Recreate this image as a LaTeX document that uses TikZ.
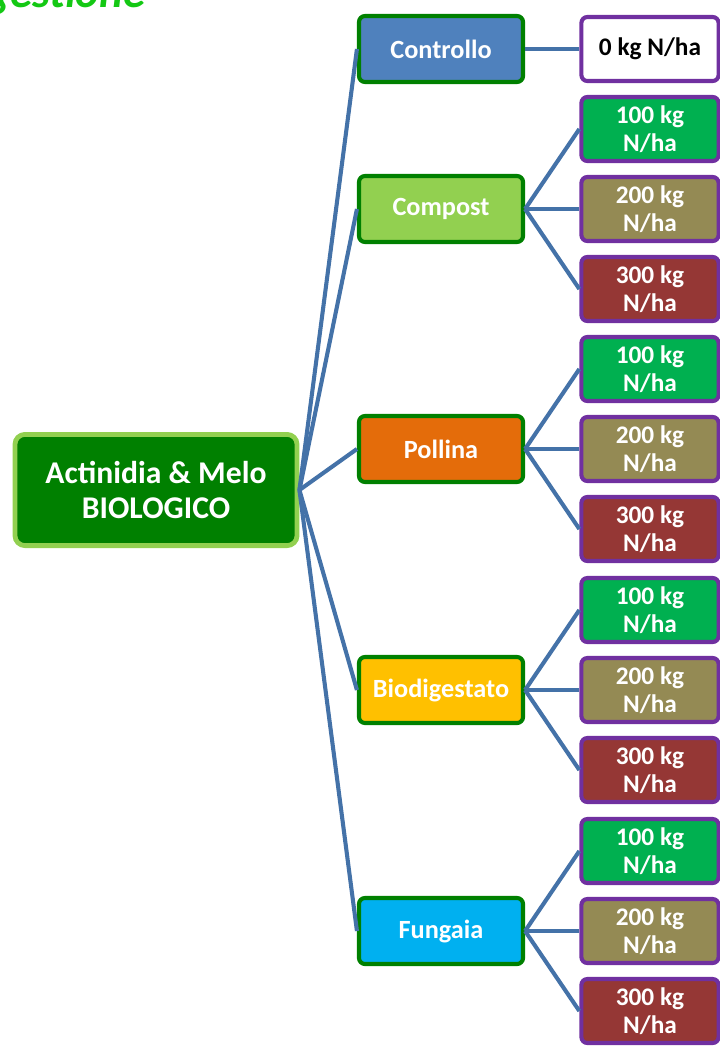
\documentclass[tikz,border=0pt]{standalone}
\usepackage{fontspec}
\setmainfont{Carlito}
\definecolor{biodark}{RGB}{0,128,0}
\definecolor{biolime}{RGB}{146,208,80}
\definecolor{bioblue}{RGB}{79,129,189}
\definecolor{bioorange}{RGB}{228,108,10}
\definecolor{bioyellow}{RGB}{255,192,0}
\definecolor{biocyan}{RGB}{0,176,240}
\definecolor{biopurple}{RGB}{112,48,160}
\definecolor{dose100}{RGB}{0,176,80}
\definecolor{dose200}{RGB}{148,138,84}
\definecolor{dose300}{RGB}{149,55,53}
\definecolor{linkblue}{RGB}{68,114,168}
\definecolor{titlegreen}{RGB}{20,200,20}
\usetikzlibrary{positioning}

\begin{document}
\begin{tikzpicture}[
    x=0.025cm, y=-0.025cm,
    rootbox/.style={rectangle, rounded corners=0.25cm, minimum width=7.05cm,
                    minimum height=2.78cm, line width=3.4pt, draw=biolime, fill=biodark,
                    text=white, align=center, font=\fontsize{22.5}{25}\selectfont\bfseries},
    groupbox/.style={rectangle, rounded corners=0.15cm, minimum width=4.1cm,
                     minimum height=1.65cm, line width=2.9pt, draw=biodark,
                     text=white, font=\fontsize{18.7}{22}\selectfont\bfseries},
    dosebox/.style={rectangle, rounded corners=0.15cm, minimum width=3.43cm,
                    minimum height=1.6cm, line width=2.9pt, draw=biopurple, inner sep=0pt,
                    text=white, align=center, font=\fontsize{18}{20}\selectfont\bfseries},
    link/.style={line width=2.9pt, linkblue}
  ]
    \useasboundingbox (0,0) rectangle (719,1046);

    % cut-off heading
    \node[anchor=base west, inner sep=0pt, text=titlegreen, font=\fontsize{32}{32}\selectfont\bfseries\itshape]
      (title) at (-14,7) {gestione};

    \node[rootbox] (root) at (156,490) {Actinidia \& Melo\\BIOLOGICO};

    \node[groupbox, fill=bioblue] (ctrl) at (441,49) {Controllo};
    \node[groupbox, fill=biolime] (comp) at (441,209) {Compost};
    \node[groupbox, fill=bioorange] (poll) at (441,449) {Pollina};
    \node[groupbox, fill=bioyellow] (biod) at (441,690) {Biodigestato};
    \node[groupbox, fill=biocyan] (fung) at (441,931) {Fungaia};

    \node[dosebox, fill=white, text=black] (ctrl0) at (650,49) {0 kg N/ha};

    \draw[link] (root.east) -- (ctrl.west);
    \draw[link] (ctrl.east) -- (ctrl0.west);

    % three doses for each organic input
    \foreach \g/\y in {comp/209, poll/449, biod/690, fung/931}{
      \node[dosebox, fill=dose100] (\g1) at (650,\y-80) {100 kg\\N/ha};
      \node[dosebox, fill=dose200] (\g2) at (650,\y) {200 kg\\N/ha};
      \node[dosebox, fill=dose300] (\g3) at (650,\y+80) {300 kg\\N/ha};
      \draw[link] (root.east) -- (\g.west);
      \draw[link] (\g.east) -- (\g1.west);
      \draw[link] (\g.east) -- (\g2.west);
      \draw[link] (\g.east) -- (\g3.west);
    }
  \end{tikzpicture}
\end{document}
